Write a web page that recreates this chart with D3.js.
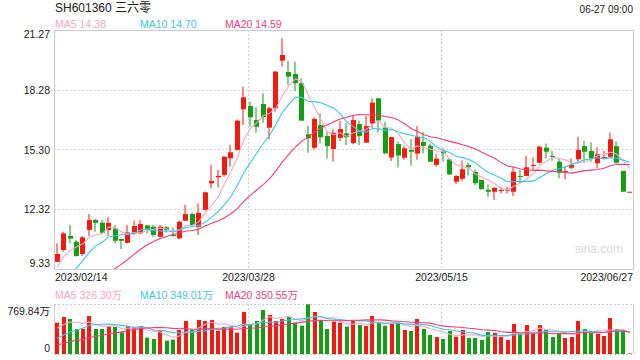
<!DOCTYPE html>
<html><head><meta charset="utf-8">
<script src="https://cdn.jsdelivr.net/npm/d3@7"></script>
<style>
body{margin:0;background:#fff}
svg{display:block}
text{font-family:"Liberation Sans",Arial,"Noto Sans CJK SC",sans-serif}
</style>
</head><body>
<svg id="c" width="640" height="360"></svg>
<script>
// ---------------- DATA ----------------
const title = "SH601360 三六零";
const timeStamp = "06-27 09:00";
const dates = [
"2023/02/14","2023/02/15","2023/02/16","2023/02/17","2023/02/20","2023/02/21","2023/02/22","2023/02/23","2023/02/24","2023/02/27","2023/02/28",
"2023/03/01","2023/03/02","2023/03/03","2023/03/06","2023/03/07","2023/03/08","2023/03/09","2023/03/10","2023/03/13","2023/03/14","2023/03/15","2023/03/16","2023/03/17","2023/03/20","2023/03/21","2023/03/22","2023/03/23","2023/03/24","2023/03/27","2023/03/28","2023/03/29","2023/03/30","2023/03/31",
"2023/04/03","2023/04/04","2023/04/06","2023/04/07","2023/04/10","2023/04/11","2023/04/12","2023/04/13","2023/04/14","2023/04/17","2023/04/18","2023/04/19","2023/04/20","2023/04/21","2023/04/24","2023/04/25","2023/04/26","2023/04/27","2023/04/28",
"2023/05/04","2023/05/05","2023/05/08","2023/05/09","2023/05/10","2023/05/11","2023/05/12","2023/05/15","2023/05/16","2023/05/17","2023/05/18","2023/05/19","2023/05/22","2023/05/23","2023/05/24","2023/05/25","2023/05/26","2023/05/29","2023/05/30","2023/05/31",
"2023/06/01","2023/06/02","2023/06/05","2023/06/06","2023/06/07","2023/06/08","2023/06/09","2023/06/12","2023/06/13","2023/06/14","2023/06/15","2023/06/16","2023/06/19","2023/06/20","2023/06/21","2023/06/26","2023/06/27"
];
const open = [9.69,10.28,10.98,10.69,10.08,11.28,11.78,11.64,11.28,11.36,10.83,10.64,11.11,11.11,11.51,11.44,10.94,11.41,11.05,10.86,
11.74,12.08,11.44,12.28,13.61,13.91,14.03,14.86,15.28,17.31,17.47,16.77,17.57,16.39,17.36,19.74,19.17,19.07,18.61,16.06,
15.39,16.52,15.97,15.33,15.88,16.11,15.62,16.57,15.64,16.60,17.86,16.40,14.90,15.57,14.89,15.28,15.10,15.68,15.49,14.53,
15.22,14.80,13.69,13.84,14.52,14.18,13.78,13.28,13.19,13.26,13.26,13.19,13.98,13.98,14.50,14.64,15.39,14.98,14.69,14.19,
14.39,14.81,15.47,15.23,14.61,14.90,14.94,15.47,14.23,13.19];
const high = [10.61,11.19,11.53,10.78,10.98,12.08,11.83,11.78,11.91,11.53,10.83,11.53,11.74,11.78,11.51,11.53,11.53,11.48,11.40,11.74,
12.53,12.14,12.61,13.20,14.53,14.28,14.97,15.53,16.80,18.44,17.69,17.41,18.11,17.44,19.22,20.86,19.74,19.69,18.86,16.48,
16.91,17.11,16.19,16.31,16.73,16.60,17.00,16.75,16.97,17.86,17.86,16.69,15.94,15.70,15.47,15.81,16.47,16.17,15.60,15.07,
15.36,14.83,14.02,14.75,14.64,14.30,13.78,13.56,13.44,13.44,13.44,14.44,14.28,14.98,14.91,15.50,15.60,15.23,14.86,14.44,
14.86,15.94,15.74,15.66,15.41,15.23,16.14,15.72,14.23,13.19];
const low = [9.69,10.19,10.61,9.95,9.98,10.98,11.19,11.09,10.98,10.61,10.33,10.61,11.03,11.08,11.11,10.94,10.91,11.14,10.94,10.81,
11.72,11.45,11.03,12.25,13.36,13.41,13.94,14.44,15.25,16.52,16.44,16.14,16.64,15.81,17.19,19.44,18.52,18.22,16.74,15.14,
15.31,15.60,14.85,14.70,15.72,15.52,15.56,15.52,15.64,16.38,16.15,15.06,14.73,14.41,14.79,14.49,14.79,15.10,14.69,14.44,
14.69,14.03,13.58,13.72,14.00,13.53,13.28,12.94,12.78,13.11,13.10,12.97,13.61,13.98,14.28,14.60,14.85,14.73,13.86,13.81,
14.31,14.69,14.69,14.69,14.36,14.83,14.91,14.60,13.19,13.19];
const close = [10.08,11.11,10.85,9.98,10.91,11.78,11.64,11.14,11.64,10.74,10.74,11.16,11.48,11.58,11.33,11.03,11.44,11.28,10.98,11.69,
12.08,11.53,12.14,13.16,13.73,13.98,14.94,15.16,16.74,17.91,16.91,16.44,16.91,17.36,19.19,20.02,18.94,18.61,16.74,15.86,
16.83,15.91,15.47,16.14,16.32,15.91,16.77,15.98,16.47,17.64,16.75,15.11,15.92,15.00,15.36,15.19,15.92,15.48,14.69,14.84,
15.11,14.05,13.98,14.31,14.41,13.62,13.33,13.19,13.38,13.28,13.30,14.19,13.96,14.41,14.53,15.44,15.19,14.95,14.14,14.22,
14.53,15.28,15.19,14.86,15.06,14.92,15.81,14.64,13.19,13.19];
// volume, in 万 shares
const volume = [482,570,539,385,385,585,385,385,421,416,334,421,411,431,251,231,364,205,221,370,
508,375,523,508,523,359,416,411,328,647,446,508,677,600,508,539,570,482,436,765,
647,513,385,498,482,421,513,446,431,585,488,436,462,482,370,354,539,385,293,262,
231,354,267,370,246,246,216,339,323,262,216,462,318,446,323,446,370,262,323,246,
262,508,385,323,308,277,554,385,370,8];
// sessions before the window (estimated), needed for the moving averages at the left edge
const prevCloses = [6.20,6.25,6.30,6.28,6.30,6.35,6.32,6.40,6.38,6.35,6.30,6.40,6.50,7.00,7.70,8.47,9.32,9.00,10.20];
const prevVolumes = [35,38,36,40,37,35,38,36,39,36,60,70,80,100,125,280,340,400,473];
const priceTicks = [9.33,12.32,15.30,18.28,21.27];
const volMax = 769.84;
const volTickLabels = ["769.84万","0"];
const tickDates = ["2023/02/14","2023/03/28","2023/05/15","2023/06/27"];
const maPeriods = [5,10,20];
const maColors = ["#f9a5c6","#3ec5e6","#ee4079"];
const priceMaLabels = ["MA5 14.38","MA10 14.70","MA20 14.59"];
const volMaLabels = ["MA5 326.30万","MA10 349.01万","MA20 350.55万"];

// ---------------- LAYOUT ----------------
const svg = d3.select("#c");
const L = 54, R = 633, pTop = 30, pBot = 269, vTop = 304, vBot = 354;
const UP = "#f31a10", DOWN = "#139e13";

const x = d3.scaleBand().domain(dates).range([L, R]).padding(0);
const bw = x.bandwidth();
const cx = d => x(d) + bw / 2;
const y = d3.scaleLinear().domain([priceTicks[0], priceTicks[priceTicks.length-1]]).range([pBot, pTop]);
const yv = d3.scaleLinear().domain([0, volMax]).range([vBot, vTop]);

const rows = dates.map((d, i) => ({d, i, o: open[i], h: high[i], l: low[i], c: close[i], v: volume[i]}));
rows.forEach((r, i) => {
  r.up = r.c > r.o ? true : (r.c < r.o ? false : (i > 0 ? r.c >= close[i-1] : true));
});

function movingAvg(vals, prev, n) {
  const all = prev.concat(vals);
  return vals.map((_, i) => {
    const end = prev.length + i + 1;
    const s = all.slice(Math.max(0, end - n), end);
    return d3.mean(s);
  });
}

// ---------------- HEADER ----------------
svg.append("text").attr("x", 55).attr("y", 12).attr("font-size", 12).attr("fill", "#222").text(title);
svg.append("text").attr("x", 633).attr("y", 13).attr("font-size", 10).attr("fill", "#222").attr("text-anchor", "end").text(timeStamp);
const legX = [55, 140, 225];
priceMaLabels.forEach((t, k) => svg.append("text").attr("x", legX[k]).attr("y", 28).attr("font-size", 10.5).attr("fill", maColors[k]).text(t));

// ---------------- PRICE PANEL ----------------
const grid = svg.append("g");
// horizontal dotted gridlines (interior ticks)
priceTicks.slice(1, -1).forEach(t => {
  grid.append("line").attr("x1", L).attr("x2", R).attr("y1", Math.round(y(t)) + 0.5).attr("y2", Math.round(y(t)) + 0.5)
    .attr("stroke", "#d4d4d4").attr("stroke-dasharray", "2,2");
});
// vertical dashed gridlines at middle date ticks
tickDates.slice(1, -1).forEach(d => {
  const gx = Math.round(x(d)) + 1.5;
  [[pTop, pBot], [vTop, vBot]].forEach(([a, b]) => {
    grid.append("line").attr("x1", gx).attr("x2", gx).attr("y1", a).attr("y2", b)
      .attr("stroke", "#cfcfcf").attr("stroke-dasharray", "2,2");
  });
});
// watermark
svg.append("text").attr("x", 623).attr("y", 253).attr("text-anchor", "end").attr("font-size", 12).attr("fill", "#d6d6d6").text("sina.com");

// panel border
svg.append("rect").attr("x", L + 0.5).attr("y", pTop + 0.5).attr("width", R - L).attr("height", pBot - pTop)
  .attr("fill", "none").attr("stroke", "#cccccc");

// y labels
priceTicks.forEach((t, k) => {
  let yy = y(t) + 4;
  if (k === priceTicks.length - 1) yy = y(t) + 8;
  if (k === 0) yy = y(t) - 2;
  svg.append("text").attr("x", 50).attr("y", yy).attr("text-anchor", "end").attr("font-size", 10.5).attr("fill", "#222").text(t.toFixed(2));
});

// candles
const cg = svg.append("g");
rows.forEach(r => {
  const col = r.up ? UP : DOWN;
  const bx = Math.round(cx(r.d) - 2.5);
  cg.append("line").attr("x1", bx + 2).attr("x2", bx + 2).attr("y1", y(r.h)).attr("y2", y(r.l)).attr("stroke", col).attr("stroke-width", 1);
  const y1 = Math.min(y(r.o), y(r.c)), y2 = Math.max(y(r.o), y(r.c));
  cg.append("rect").attr("x", bx).attr("width", 5).attr("y", y1).attr("height", Math.max(1, y2 - y1)).attr("fill", col);
});

// clip paths
const defs = svg.append("defs");
defs.append("clipPath").attr("id", "pclip").append("rect").attr("x", L).attr("y", pTop).attr("width", R - L).attr("height", pBot - pTop);
defs.append("clipPath").attr("id", "vclip").append("rect").attr("x", L).attr("y", vTop - 2).attr("width", R - L).attr("height", vBot - vTop + 2);

// price MAs
const pLine = d3.line().x((d, i) => cx(dates[i])).y(d => y(d));
const mag = svg.append("g").attr("clip-path", "url(#pclip)");
maPeriods.forEach((n, k) => {
  mag.append("path").datum(movingAvg(close, prevCloses, n)).attr("d", pLine)
    .attr("fill", "none").attr("stroke", maColors[k]).attr("stroke-width", 1.1);
});

// x labels
tickDates.forEach((d, k) => {
  let anchor = "middle", xx = Math.round(x(d)) + 1.5;
  if (k === 0) { anchor = "start"; xx = 55; }
  if (k === tickDates.length - 1) { anchor = "end"; xx = 633; }
  svg.append("text").attr("x", xx).attr("y", 281).attr("text-anchor", anchor).attr("font-size", 10.5).attr("fill", "#222").text(d);
});

// ---------------- VOLUME PANEL ----------------
volMaLabels.forEach((t, k) => svg.append("text").attr("x", legX[k]).attr("y", 299).attr("font-size", 10.5).attr("fill", maColors[k]).text(t));
[vTop, vBot].forEach(yy => svg.append("line").attr("x1", L).attr("x2", R).attr("y1", yy + 0.5).attr("y2", yy + 0.5)
  .attr("stroke", "#cccccc").attr("stroke-dasharray", "2,2"));
[L, R].forEach(xx => svg.append("line").attr("x1", xx + 0.5).attr("x2", xx + 0.5).attr("y1", vTop).attr("y2", vBot)
  .attr("stroke", "#d0d0d0"));
svg.append("text").attr("x", 50).attr("y", yv(volMax) + 11).attr("text-anchor", "end").attr("font-size", 10.5).attr("fill", "#222").text(volTickLabels[0]);
svg.append("text").attr("x", 50).attr("y", yv(0) - 2).attr("text-anchor", "end").attr("font-size", 10.5).attr("fill", "#222").text(volTickLabels[1]);

const vg = svg.append("g");
rows.forEach(r => {
  const bx = Math.round(cx(r.d) - 2);
  vg.append("rect").attr("x", bx).attr("width", 4).attr("y", yv(r.v)).attr("height", Math.max(0, yv(0) - yv(r.v)))
    .attr("fill", r.up ? UP : DOWN);
});
const vLine = d3.line().x((d, i) => cx(dates[i])).y(d => yv(d));
const vmag = svg.append("g").attr("clip-path", "url(#vclip)");
maPeriods.forEach((n, k) => {
  vmag.append("path").datum(movingAvg(volume, prevVolumes, n)).attr("d", vLine)
    .attr("fill", "none").attr("stroke", maColors[k]).attr("stroke-width", 1.1);
});
</script>
</body></html>
